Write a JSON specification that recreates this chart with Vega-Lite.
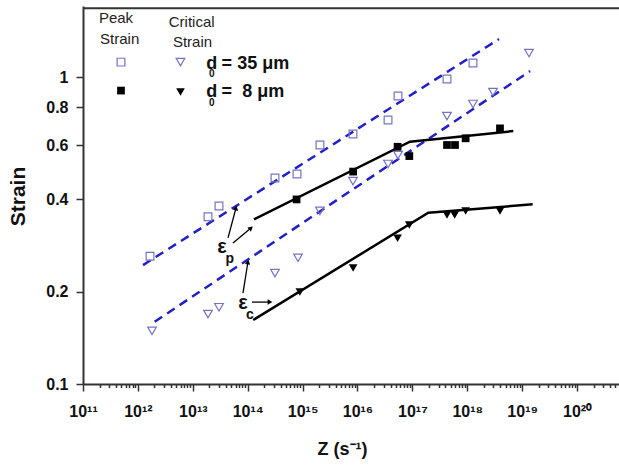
{
  "$schema": "https://vega.github.io/schema/vega-lite/v6.json",
  "width": 536,
  "height": 378,
  "autosize": {"type": "none"},
  "padding": {"left": 83, "top": 6, "right": 0, "bottom": 82},
  "background": "white",
  "view": {"stroke": null},
  "config": {"font": "Liberation Sans"},
  "datasets": {
    "points": [
      {"Z": 1.66e12, "S": 0.261, "series": "peak35"},
      {"Z": 1.89e13, "S": 0.351, "series": "peak35"},
      {"Z": 3.0e13, "S": 0.381, "series": "peak35"},
      {"Z": 3.14e14, "S": 0.470, "series": "peak35"},
      {"Z": 7.91e14, "S": 0.484, "series": "peak35"},
      {"Z": 2.07e15, "S": 0.602, "series": "peak35"},
      {"Z": 8.28e15, "S": 0.654, "series": "peak35"},
      {"Z": 3.6e16, "S": 0.726, "series": "peak35"},
      {"Z": 5.47e16, "S": 0.870, "series": "peak35"},
      {"Z": 4.27e17, "S": 0.988, "series": "peak35"},
      {"Z": 1.27e18, "S": 1.114, "series": "peak35"},
      {"Z": 4.92e11, "S": 1.122, "series": "peak35"},
      {"Z": 1.81e12, "S": 0.149, "series": "crit35"},
      {"Z": 1.89e13, "S": 0.169, "series": "crit35"},
      {"Z": 3.0e13, "S": 0.178, "series": "crit35"},
      {"Z": 3.14e14, "S": 0.230, "series": "crit35"},
      {"Z": 8.24e14, "S": 0.258, "series": "crit35"},
      {"Z": 2.07e15, "S": 0.367, "series": "crit35"},
      {"Z": 8.28e15, "S": 0.459, "series": "crit35"},
      {"Z": 3.6e16, "S": 0.522, "series": "crit35"},
      {"Z": 5.47e16, "S": 0.558, "series": "crit35"},
      {"Z": 4.27e17, "S": 0.748, "series": "crit35"},
      {"Z": 1.27e18, "S": 0.819, "series": "crit35"},
      {"Z": 2.94e18, "S": 0.896, "series": "crit35"},
      {"Z": 1.33e19, "S": 1.201, "series": "crit35"},
      {"Z": 5.97e12, "S": 1.122, "series": "crit35"},
      {"Z": 7.76e14, "S": 0.400, "series": "peak8"},
      {"Z": 8.32e15, "S": 0.493, "series": "peak8"},
      {"Z": 5.37e16, "S": 0.594, "series": "peak8"},
      {"Z": 8.79e16, "S": 0.554, "series": "peak8"},
      {"Z": 4.27e17, "S": 0.602, "series": "peak8"},
      {"Z": 5.97e17, "S": 0.602, "series": "peak8"},
      {"Z": 9.33e17, "S": 0.633, "series": "peak8"},
      {"Z": 3.94e18, "S": 0.682, "series": "peak8"},
      {"Z": 4.92e11, "S": 0.906, "series": "peak8"},
      {"Z": 8.91e14, "S": 0.1995, "series": "crit8"},
      {"Z": 8.32e15, "S": 0.239, "series": "crit8"},
      {"Z": 5.37e16, "S": 0.299, "series": "crit8"},
      {"Z": 8.79e16, "S": 0.330, "series": "crit8"},
      {"Z": 4.27e17, "S": 0.356, "series": "crit8"},
      {"Z": 5.89e17, "S": 0.356, "series": "crit8"},
      {"Z": 9.33e17, "S": 0.367, "series": "crit8"},
      {"Z": 3.94e18, "S": 0.367, "series": "crit8"},
      {"Z": 5.97e12, "S": 0.896, "series": "crit8"}
    ],
    "fits": [
      {"Z": 1.24e12, "S": 0.2443, "fit": "peak35"},
      {"Z": 3.78e18, "S": 1.334, "fit": "peak35"},
      {"Z": 2.02e12, "S": 0.1596, "fit": "crit35"},
      {"Z": 1.39e19, "S": 1.049, "fit": "crit35"},
      {"Z": 1.30e14, "S": 0.3445, "fit": "peak8"},
      {"Z": 9.04e16, "S": 0.617, "fit": "peak8"},
      {"Z": 6.89e18, "S": 0.6685, "fit": "peak8"},
      {"Z": 1.26e14, "S": 0.1617, "fit": "crit8"},
      {"Z": 1.95e17, "S": 0.362, "fit": "crit8"},
      {"Z": 1.55e19, "S": 0.3856, "fit": "crit8"},
      {"Z": 1e11, "S": 1.68, "fit": "border"},
      {"Z": 5.8e20, "S": 1.68, "fit": "border"}
    ],
    "arrows": [
      {"Z": 4.38e13, "S": 0.2995, "Z2": 6.12e13, "S2": 0.375, "id": "a1"},
      {"Z": 5.40e13, "S": 0.2884, "Z2": 1.148e14, "S2": 0.3227, "id": "a2"},
      {"Z": 8.2e13, "S": 0.198, "Z2": 1.01e14, "S2": 0.250, "id": "a3"},
      {"Z": 1.197e14, "S": 0.185, "Z2": 2.55e14, "S2": 0.185, "id": "a4"}
    ],
    "texts": [
      {"Z": 3.99e11, "S": 1.562, "text": "Peak", "kind": "head"},
      {"Z": 4.66e11, "S": 1.339, "text": "Strain", "kind": "head"},
      {"Z": 9.55e12, "S": 1.519, "text": "Critical", "kind": "head"},
      {"Z": 9.89e12, "S": 1.300, "text": "Strain", "kind": "head"},
      {"Z": 1.75e13, "S": 1.110, "text": "d", "kind": "leg"},
      {"Z": 1.97e13, "S": 1.025, "text": "0", "kind": "sub"},
      {"Z": 3.35e13, "S": 1.110, "text": "= 35 μm", "kind": "leg"},
      {"Z": 1.75e13, "S": 0.893, "text": "d", "kind": "leg"},
      {"Z": 1.97e13, "S": 0.828, "text": "0", "kind": "sub"},
      {"Z": 3.35e13, "S": 0.893, "text": "=\u00a0 8 μm", "kind": "leg"},
      {"Z": 3.40e13, "S": 0.280, "text": "ε", "kind": "eps"},
      {"Z": 4.70e13, "S": 0.2557, "text": "p", "kind": "epssub"},
      {"Z": 8.2e13, "S": 0.1837, "text": "ε", "kind": "eps"},
      {"Z": 1.10e14, "S": 0.1673, "text": "c", "kind": "epssub"}
    ]
  },
  "encoding": {
    "x": {
      "field": "Z", "type": "quantitative",
      "scale": {"type": "log", "domain": [1e11, 5.8e20], "nice": false},
      "axis": {
        "values": [1e11,2e11,3e11,4e11,5e11,6e11,7e11,8e11,9e11,
                   1e12,2e12,3e12,4e12,5e12,6e12,7e12,8e12,9e12,
                   1e13,2e13,3e13,4e13,5e13,6e13,7e13,8e13,9e13,
                   1e14,2e14,3e14,4e14,5e14,6e14,7e14,8e14,9e14,
                   1e15,2e15,3e15,4e15,5e15,6e15,7e15,8e15,9e15,
                   1e16,2e16,3e16,4e16,5e16,6e16,7e16,8e16,9e16,
                   1e17,2e17,3e17,4e17,5e17,6e17,7e17,8e17,9e17,
                   1e18,2e18,3e18,4e18,5e18,6e18,7e18,8e18,9e18,
                   1e19,2e19,3e19,4e19,5e19,6e19,7e19,8e19,9e19,
                   1e20,2e20,3e20,4e20,5e20],
        "labelExpr": "abs(log(datum.value)/LN10 - round(log(datum.value)/LN10)) < 0.001 ? ['10¹¹','10¹²','10¹³','10¹⁴','10¹⁵','10¹⁶','10¹⁷','10¹⁸','10¹⁹','10²⁰'][round(log(datum.value)/LN10) - 11] : ''",
        "labelFont": "Liberation Sans", "labelFontWeight": "bold", "labelFontSize": 16, "labelColor": "#111",
        "labelOverlap": false, "labelBound": false, "labelFlush": false, "labelPadding": 12,
        "tickSize": {"condition": {"test": "abs(log(datum.value)/LN10 - round(log(datum.value)/LN10)) < 0.001", "value": 7}, "value": 3.5},
        "tickColor": "#333", "tickWidth": 1.5,
        "domainColor": "#333", "domainWidth": 2, "grid": false,
        "title": "Z (s⁻¹)", "titleFont": "Liberation Sans", "titleFontSize": 18, "titleFontWeight": "bold", "titleColor": "#111",
        "titleX": 259, "titleY": 65, "titleBaseline": "middle", "titleAlign": "center"
      }
    },
    "y": {
      "field": "S", "type": "quantitative",
      "scale": {"type": "log", "domain": [0.1, 1.71], "nice": false},
      "axis": {
        "values": [0.1, 0.2, 0.4, 0.6, 0.8, 1],
        "labelExpr": "datum.value >= 0.99 ? '1' : format(datum.value, '.1f')",
        "labelFont": "Liberation Sans", "labelFontWeight": "bold", "labelFontSize": 16, "labelColor": "#111",
        "labelPadding": 8, "tickSize": 7, "tickColor": "#333", "tickWidth": 1.5,
        "domainColor": "#333", "domainWidth": 2, "grid": false,
        "title": "Strain", "titleFont": "Liberation Sans", "titleFontSize": 21, "titleFontWeight": "bold", "titleColor": "#111",
        "titleX": -65, "titleY": 190, "titleAngle": -90, "titleBaseline": "middle", "titleAlign": "center"
      }
    }
  },
  "layer": [
    {
      "data": {"name": "fits"},
      "transform": [{"filter": "datum.fit == 'border'"}],
      "mark": {"type": "line", "color": "#333", "strokeWidth": 2, "clip": false}
    },
    {
      "data": {"name": "fits"},
      "transform": [{"filter": "datum.fit == 'peak35' || datum.fit == 'crit35'"}],
      "mark": {"type": "line", "color": "#2020c8", "strokeWidth": 2.5, "strokeDash": [9, 6]},
      "encoding": {"detail": {"field": "fit"}}
    },
    {
      "data": {"name": "fits"},
      "transform": [{"filter": "datum.fit == 'peak8' || datum.fit == 'crit8'"}],
      "mark": {"type": "line", "color": "#000", "strokeWidth": 2.5},
      "encoding": {"detail": {"field": "fit"}}
    },
    {
      "data": {"name": "points"},
      "transform": [{"filter": "datum.series == 'peak35'"}],
      "mark": {"type": "point", "shape": "square", "filled": false, "stroke": "#7474c4", "strokeWidth": 1.2, "size": 60, "opacity": 1}
    },
    {
      "data": {"name": "points"},
      "transform": [{"filter": "datum.series == 'crit35'"}],
      "mark": {"type": "point", "shape": "triangle-down", "filled": false, "stroke": "#7474c4", "strokeWidth": 1.2, "size": 75, "opacity": 1}
    },
    {
      "data": {"name": "points"},
      "transform": [{"filter": "datum.series == 'peak8'"}],
      "mark": {"type": "point", "shape": "square", "filled": true, "fill": "#000", "size": 60, "opacity": 1}
    },
    {
      "data": {"name": "points"},
      "transform": [{"filter": "datum.series == 'crit8'"}],
      "mark": {"type": "point", "shape": "triangle-down", "filled": true, "fill": "#000", "size": 75, "opacity": 1}
    },
    {
      "data": {"name": "arrows"},
      "mark": {"type": "rule", "color": "#000", "strokeWidth": 1.3},
      "encoding": {"x2": {"field": "Z2"}, "y2": {"field": "S2"}}
    },
    {
      "data": {"name": "arrows"},
      "transform": [{"filter": "datum.id == 'a1'"}],
      "mark": {"type": "point", "shape": "triangle-up", "filled": true, "fill": "#000", "size": 30, "angle": 15, "opacity": 1},
      "encoding": {"x": {"field": "Z2", "type": "quantitative"}, "y": {"field": "S2", "type": "quantitative"}}
    },
    {
      "data": {"name": "arrows"},
      "transform": [{"filter": "datum.id == 'a2'"}],
      "mark": {"type": "point", "shape": "triangle-up", "filled": true, "fill": "#000", "size": 30, "angle": 50, "opacity": 1},
      "encoding": {"x": {"field": "Z2", "type": "quantitative"}, "y": {"field": "S2", "type": "quantitative"}}
    },
    {
      "data": {"name": "arrows"},
      "transform": [{"filter": "datum.id == 'a3'"}],
      "mark": {"type": "point", "shape": "triangle-up", "filled": true, "fill": "#000", "size": 30, "angle": 9, "opacity": 1},
      "encoding": {"x": {"field": "Z2", "type": "quantitative"}, "y": {"field": "S2", "type": "quantitative"}}
    },
    {
      "data": {"name": "arrows"},
      "transform": [{"filter": "datum.id == 'a4'"}],
      "mark": {"type": "point", "shape": "triangle-up", "filled": true, "fill": "#000", "size": 30, "angle": 90, "opacity": 1},
      "encoding": {"x": {"field": "Z2", "type": "quantitative"}, "y": {"field": "S2", "type": "quantitative"}}
    },
    {
      "data": {"name": "texts"},
      "transform": [{"filter": "datum.kind == 'head'"}],
      "mark": {"type": "text", "font": "Liberation Sans", "fontSize": 15, "color": "#222", "align": "center", "baseline": "middle"},
      "encoding": {"text": {"field": "text"}}
    },
    {
      "data": {"name": "texts"},
      "transform": [{"filter": "datum.kind == 'leg'"}],
      "mark": {"type": "text", "font": "Liberation Sans", "fontSize": 18, "fontWeight": "bold", "color": "#111", "align": "left", "baseline": "middle"},
      "encoding": {"text": {"field": "text"}}
    },
    {
      "data": {"name": "texts"},
      "transform": [{"filter": "datum.kind == 'sub'"}],
      "mark": {"type": "text", "font": "Liberation Sans", "fontSize": 10, "fontWeight": "bold", "color": "#111", "align": "left", "baseline": "middle"},
      "encoding": {"text": {"field": "text"}}
    },
    {
      "data": {"name": "texts"},
      "transform": [{"filter": "datum.kind == 'eps'"}],
      "mark": {"type": "text", "font": "Liberation Sans", "fontSize": 20, "fontWeight": "bold", "color": "#111", "align": "center", "baseline": "middle"},
      "encoding": {"text": {"field": "text"}}
    },
    {
      "data": {"name": "texts"},
      "transform": [{"filter": "datum.kind == 'epssub'"}],
      "mark": {"type": "text", "font": "Liberation Sans", "fontSize": 14, "fontWeight": "bold", "color": "#111", "align": "center", "baseline": "middle"},
      "encoding": {"text": {"field": "text"}}
    }
  ]
}
